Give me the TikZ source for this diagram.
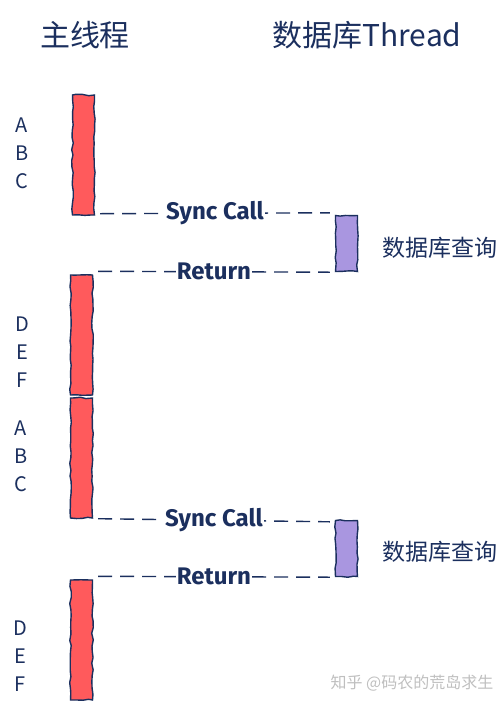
\documentclass[tikz,border=0pt]{standalone}
\usepackage{fontspec}
\setmainfont{Noto Sans CJK SC}
\newfontfamily\msgfont{Fira Sans}
\usepackage{tikz}
\usetikzlibrary{positioning}
\usetikzlibrary{decorations.pathmorphing}
\definecolor{ink}{HTML}{1B2F5E}
\definecolor{mainred}{HTML}{FF5A5C}
\definecolor{dbpurple}{HTML}{A996E0}

\begin{document}
\begin{tikzpicture}
  [
    x = 1pt, y = -1pt,
    node distance = 24pt and 24pt,
    title/.style = {text = ink, inner sep = 0pt, font = \fontsize{30}{32}\selectfont},
    bar/.style = {draw = ink, line width = 1.4pt, minimum width = 22pt, inner sep = 0pt,
                  decorate, decoration = {random steps, segment length = 6pt, amplitude = 0.8pt}},
    mainbar/.style = {bar, fill = mainred, minimum height = 120pt},
    dbbar/.style = {bar, fill = dbpurple, minimum height = 56pt},
    steps/.style = {text = ink, align = center, inner sep = 0pt,
                    font = \fontsize{20}{28}\selectfont},
    query/.style = {text = ink, inner sep = 0pt, font = \fontsize{23}{25}\selectfont},
    call/.style = {draw = ink, line width = 1.4pt, dash pattern = on 14pt off 8pt},
    msg/.style = {fill = white, text = ink, inner sep = 1pt,
                  font = \msgfont\bfseries\fontsize{24}{26}\selectfont},
  ]
  \useasboundingbox (0,0) rectangle (502,705);
  \pgfmathsetseed{7}

  \node[title] (t_main) at (85,35) {主线程};
  \node[title] (t_db) at (367,35) {数据库Thread};

  % main thread
  \node[mainbar] (bar1) at (83.5,155) {};
  \node[mainbar] (bar2) at (81.5,335) {};
  \node[mainbar] (bar3) at (81.5,458) {};
  \node[mainbar] (bar4) at (81.5,640) {};

  \node[steps] (abc1) at (22,153) {A\\B\\C};
  \node[steps] (def1) at (22,352) {D\\E\\F};
  \node[steps] (abc2) at (21,456) {A\\B\\C};
  \node[steps] (def2) at (20,656) {D\\E\\F};

  % db thread
  \node[dbbar] (db1) at (346.5,243.5) {};
  \node[dbbar] (db2) at (346.5,548.5) {};

  \node[query] [right = of db1, yshift = -4pt] (q1) {数据库查询};
  \node[query] [right = of db2, yshift = -3pt] (q2) {数据库查询};

  \draw[call] ([xshift=5pt, yshift=2pt]bar1.south east)
    -- node[msg] {Sync Call} ([xshift=-5pt, yshift=2pt]db1.north west);
  \draw[call] ([xshift=5pt, yshift=3pt]bar2.north east)
    -- node[msg] {Return} ([xshift=-5pt]db1.south west);

  \draw[call] ([xshift=5pt]bar3.south east)
    -- node[msg] {Sync Call} ([xshift=-5pt, yshift=-2pt]db2.north west);
  \draw[call] ([xshift=5pt, yshift=3pt]bar4.north east)
    -- node[msg] {Return} ([xshift=-5pt]db2.south west);

  \node[text = black!25, inner sep = 0pt, font = \fontsize{16}{18}\selectfont] (mark) at (412,683) {知乎 @码农的荒岛求生};
\end{tikzpicture}
\end{document}
